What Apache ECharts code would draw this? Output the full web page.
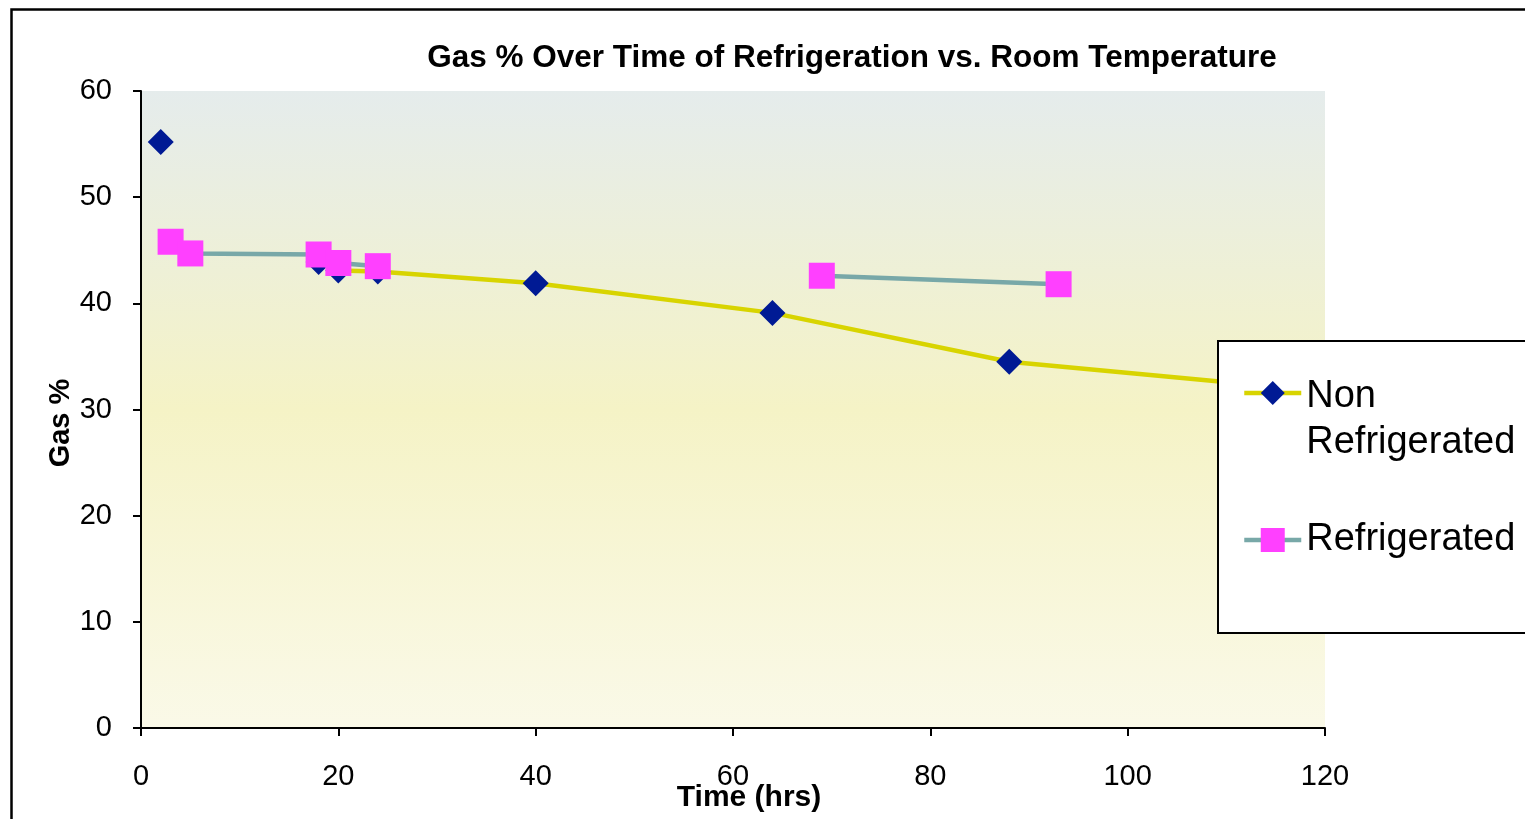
<!DOCTYPE html>
<html>
<head>
<meta charset="utf-8">
<script src="https://cdn.jsdelivr.net/npm/echarts@6/dist/echarts.min.js"></script>
<style>
  html, body { margin: 0; padding: 0; background: #ffffff; }
  #chart { width: 1525px; height: 819px; }
</style>
</head>
<body>
<div id="chart"></div>
<script>
// values (null = gap in the line)
const nonRefTime = [2, null, 18, 20, 24, 40, 64, 88, 112];
const nonRefGas = [55.2, null, 43.9, 43.1, 43.0, 41.9, 39.1, 34.5, 32.4];
const refTime = [3, 5, 18, 20, 24, null, 69, 93];
const refGas = [45.8, 44.7, 44.6, 43.8, 43.5, null, 42.6, 41.8];

const FONT = "'Liberation Sans', Arial, sans-serif";

function pairs(xs, ys) {
  return xs.map((x, i) => (x === null || ys[i] === null ? ['-', '-'] : [x, ys[i]]));
}

const chart = echarts.init(document.getElementById('chart'), null, { renderer: 'canvas' });

chart.setOption({
  animation: false,
  backgroundColor: '#ffffff',
  title: {
    text: 'Gas % Over Time of Refrigeration vs. Room Temperature',
    left: 847,
    textAlign: 'center',
    top: 37,
    textStyle: { fontFamily: FONT, fontSize: 31.5, fontWeight: 'bold', color: '#000' }
  },
  grid: {
    left: 141, right: 200, top: 91, bottom: 91,
    outerBoundsMode: 'none',
    containLabel: false,
    show: true,
    borderWidth: 0,
    backgroundColor: new echarts.graphic.LinearGradient(0, 0, 0, 1, [
      { offset: 0, color: '#e5ecec' },
      { offset: 0.5, color: '#f5f3c6' },
      { offset: 1, color: '#faf9e8' }
    ])
  },
  graphic: [
    {
      type: 'rect', left: 9, top: 7, z: -10,
      shape: { width: 1700, height: 900 },
      style: { fill: 'none', stroke: '#000', lineWidth: 2.5 }
    },
    {
      type: 'rect', left: 1217, top: 340, z: 50,
      shape: { width: 400, height: 292 },
      style: { fill: '#ffffff', stroke: '#000', lineWidth: 2 }
    }
  ],
  legend: {
    orient: 'vertical',
    left: 1237,
    top: 315,
    z: 60,
    itemWidth: 57,
    itemHeight: 30,
    itemGap: 51,
    lineStyle: { width: 4.5 },
    textStyle: {
      fontFamily: FONT, fontSize: 38, color: '#000', lineHeight: 46,
      rich: {
        pad: { fontSize: 10, lineHeight: 54 },
        a: { fontFamily: FONT, fontSize: 38, color: '#000', lineHeight: 46 }
      }
    },
    data: ['Non Refrigerated', 'Refrigerated'],
    formatter: (name) => (name === 'Non Refrigerated' ? '{pad| }\n{a|Non}\n{a|Refrigerated}' : '{a|' + name + '}')
  },
  xAxis: {
    type: 'value',
    min: 0, max: 120, interval: 20,
    name: 'Time (hrs)',
    nameLocation: 'middle',
    nameGap: 55,
    nameMoveOverlap: false,
    nameTextStyle: { fontFamily: FONT, fontSize: 30, fontWeight: 'bold', color: '#000', padding: [0, 0, 0, 32] },
    axisLine: { onZero: false, lineStyle: { color: '#000', width: 2 } },
    axisTick: { show: true, length: 8, lineStyle: { color: '#000', width: 2 } },
    axisLabel: { fontFamily: FONT, fontSize: 29, color: '#000', margin: 34 },
    splitLine: { show: false }
  },
  yAxis: {
    type: 'value',
    min: 0, max: 60, interval: 10,
    name: 'Gas %',
    nameLocation: 'middle',
    nameGap: 66,
    nameMoveOverlap: false,
    nameTextStyle: { fontFamily: FONT, fontSize: 29, fontWeight: 'bold', color: '#000', padding: [0, 27, 0, 0] },
    axisLine: { show: true, lineStyle: { color: '#000', width: 2 } },
    axisTick: { show: true, length: 8, lineStyle: { color: '#000', width: 2 } },
    axisLabel: { fontFamily: FONT, fontSize: 29, color: '#000', margin: 29 },
    splitLine: { show: false }
  },
  series: [
    {
      name: 'Non Refrigerated',
      type: 'line',
      data: pairs(nonRefTime, nonRefGas),
      symbol: 'diamond',
      symbolSize: 26,
      showAllSymbol: true,
      lineStyle: { color: '#d8d400', width: 4.5 },
      itemStyle: { color: '#001a94' },
      z: 2
    },
    {
      name: 'Refrigerated',
      type: 'line',
      data: pairs(refTime, refGas),
      symbol: 'rect',
      symbolSize: 26,
      showAllSymbol: true,
      lineStyle: { color: '#78a8a8', width: 4.5 },
      itemStyle: { color: '#ff40ff' },
      z: 3
    }
  ]
});
</script>
</body>
</html>
